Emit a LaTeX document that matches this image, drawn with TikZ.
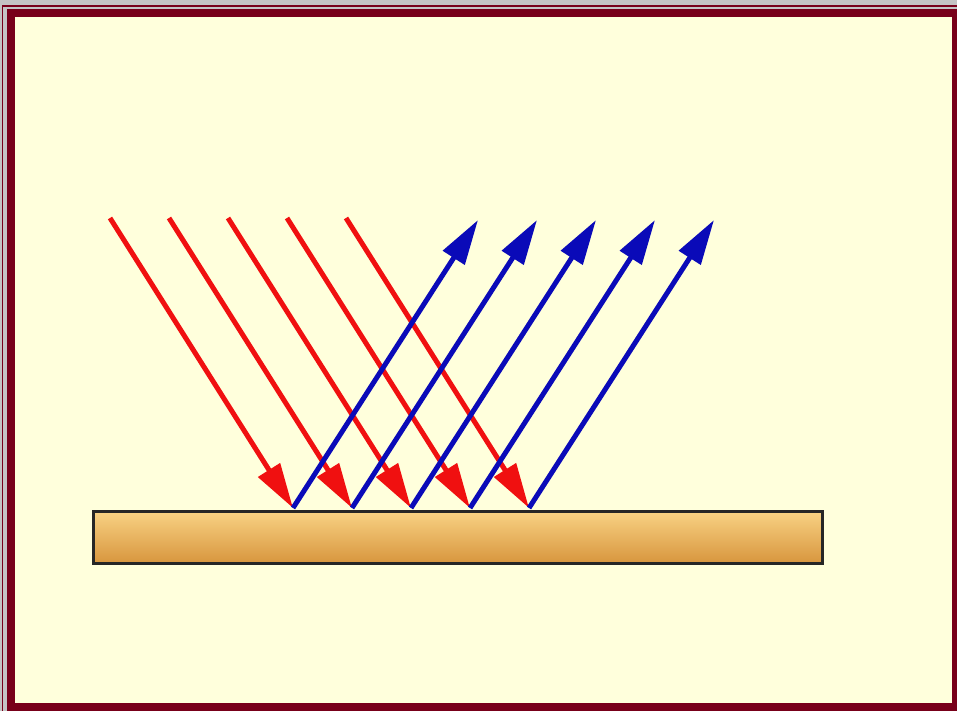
\documentclass[tikz,border=0pt]{standalone}
\usepackage{xcolor}
\usetikzlibrary{arrows.meta}
\definecolor{cFrame}{HTML}{78001A}
\definecolor{cGrayBand}{HTML}{C4C4C4}
\definecolor{cPaper}{HTML}{FFFFDC}
\definecolor{cIn}{HTML}{F01010}
\definecolor{cOut}{HTML}{0A0AB8}
\definecolor{cBoardTop}{HTML}{F8D284}
\definecolor{cBoardMid}{HTML}{F0B45C}
\definecolor{cBoardBot}{HTML}{D8963E}
\tikzset{
  ray/.style={line width=0.1cm,-{Triangle[length=0.9cm,width=0.5cm]}},
  incoming/.style={ray,cIn},
  reflected/.style={ray,cOut}
}

\begin{document}
\begin{tikzpicture}[x=0.02cm,y=-0.02cm]
  % frame
  \fill[cGrayBand] (0,0) rectangle (957,711);
  \fill[cFrame] (2,5) rectangle (957,711);
  \fill[cGrayBand] (3,7) rectangle (957,9);
  \fill[cGrayBand] (3,7) rectangle (7,711);
  \fill[cFrame] (7,9) rectangle (957,711);
  \fill[cPaper] (15,17) rectangle (952,703);
  \useasboundingbox (0,0) rectangle (957,711);
  % board
  \shade[top color=cBoardTop,middle color=cBoardMid,bottom color=cBoardBot]
    (93,511) rectangle (822,563);
  \draw[black!85,line width=0.06cm] (93,511) rectangle (822,563);
  % rays
  \def\dx{59}
  \foreach \i in {0,...,4} {
    \coordinate (src\i) at ({110+\i*\dx},218);
    \coordinate (hit\i) at ({293+\i*\dx},508);
    \coordinate (top\i) at ({478+\i*\dx},220);
  }
  \foreach \i in {0,...,4}
    \draw[incoming] (src\i) -- (hit\i);
  \foreach \i in {0,...,4}
    \draw[reflected] (hit\i) -- (top\i);
\end{tikzpicture}
\end{document}
